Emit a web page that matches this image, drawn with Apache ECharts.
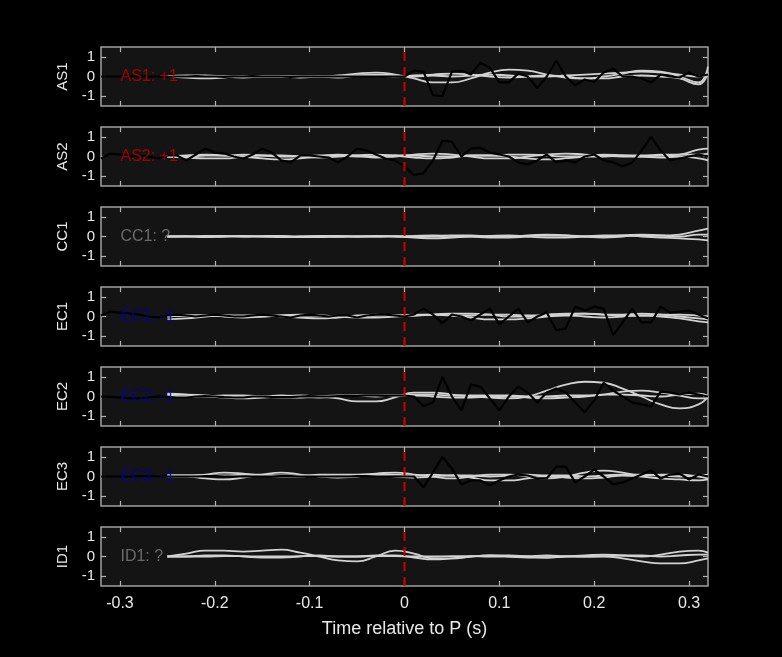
<!DOCTYPE html>
<html><head><meta charset="utf-8">
<script src="https://cdn.jsdelivr.net/npm/echarts@6/dist/echarts.min.js"></script>
<style>html,body{margin:0;padding:0;background:#000}#c{width:782px;height:657px}</style>
</head><body><div id="c"></div>
<script>
const stations = ["AS1","AS2","CC1","EC1","EC2","EC3","ID1"];
const labels = ["AS1: +1","AS2: +1","CC1: ?","EC1: -1","EC2: -1","EC3: -1","ID1: ?"];
const labelColors = ["#c00000","#c00000","#808080","#0000a0","#0000a0","#0000a0","#808080"];
const xTicks = [-0.3,-0.2,-0.1,0,0.1,0.2,0.3];
const yTicks = [-1,0,1];
// gray traces sampled at these times
const grayTimes = [-0.25,-0.23,-0.21,-0.19,-0.17,-0.15,-0.13,-0.11,-0.09,-0.07,-0.05,-0.03,-0.01,0.01,0.03,0.05,0.07,0.09,0.11,0.13,0.15,0.17,0.19,0.21,0.23,0.25,0.27,0.29,0.31,0.32];
// black trace sampled every 0.01 s from -0.32
const blackStart = -0.32, blackStep = 0.01;

const grayAS1 = [
 [0,0.05,0.05,0,-0.05,0,0,0,0,0.05,0.15,0.2,0.1,-0.1,-0.3,-0.3,-0.1,0.2,0.35,0.3,0.1,-0.05,-0.1,0.0,0.15,0.3,0.25,0.0,-0.3,0.5],
 [0,-0.05,-0.1,-0.05,0,0,0,-0.05,0,0,0.05,0.05,0,0.05,0.1,0.15,0.1,0,-0.05,0,0.05,0,-0.1,-0.1,0,0.05,0,-0.1,-0.4,0.2],
 [0,0,0,0,0,0,0,0,0,-0.05,0.05,0.1,0.05,0,0.05,0,0.05,0.1,0.05,0,0,0.05,0.1,0.15,0.2,0.25,0.2,0.1,0,0.1]];
const grayAS2 = [
 [0,0.05,0.1,0.05,0,-0.1,-0.15,-0.1,0,0.1,0.05,-0.05,0,0.1,0.15,0.1,0,-0.1,-0.1,0,0.1,0.15,0.1,0.05,0,0,0.05,0.1,0.35,0.4],
 [0,-0.05,-0.1,-0.1,0,0.05,0.05,0,-0.05,0,0.05,0.1,0.05,-0.05,-0.1,-0.05,0.05,0.05,0,-0.1,-0.15,-0.1,0,0.1,0.05,0,-0.05,0,-0.1,-0.2],
 [0,0,0.05,0.05,0.1,0.05,0,0,0.05,0.05,0,0,0.05,0.05,0,0,0.05,0.05,0.1,0.1,0.05,0,0,0,0.05,0.05,0.1,0.1,0.1,0.15]];
const grayCC1 = [
 [0,0,0.03,0.03,0,0,-0.03,0,0.03,0.03,0,0,0,0.03,0.05,0.03,0,-0.05,-0.05,0,0.05,0.05,0,-0.05,0,0.05,0.05,0.1,0.3,0.4],
 [0,0,-0.03,0,0.03,0,0,-0.03,-0.03,0,0,0.03,0,-0.05,-0.1,-0.05,0,0.03,0.05,0,-0.05,-0.05,0,0.05,0.05,0,-0.05,-0.1,-0.15,-0.2],
 [0,0.02,0,0,0,0.02,0.03,0,0,-0.02,0,0,0.02,0,0,0.05,0.05,0,0,0.05,0.1,0.05,0,0,0.05,0.1,0.05,0,0.1,0.1]];
const grayEC1 = [
 [-0.15,-0.1,0,0.05,0.05,0.05,0,-0.05,-0.1,-0.05,0.05,0.1,0.05,0.05,0.1,0.15,0.15,0.1,0,0,0.1,0.15,0.15,0.1,0.1,0.15,0.1,0,-0.1,-0.15],
 [0,0.05,0.05,0,-0.05,0,0.05,0.1,0.05,0,-0.05,-0.05,0,0.05,0.1,0.05,-0.05,-0.15,-0.15,-0.1,0,0.05,0,-0.05,0,0.05,0,-0.1,-0.25,-0.3],
 [0,0.05,0.05,0.05,0,0,0.05,0.05,0.05,0,0,0.05,0.05,0.1,0.1,0.05,0.05,0.1,0.1,0.05,0.05,0.1,0.15,0.1,0.05,0.05,0.1,0.1,0.05,0]];
const grayEC2 = [
 [0.15,0.1,0,-0.05,-0.1,-0.05,0,0.05,0,-0.1,-0.25,-0.25,-0.05,0.2,0.2,0.1,0,-0.05,-0.1,0,0.3,0.6,0.75,0.7,0.4,0,-0.4,-0.6,-0.4,0],
 [0.05,0,0,0.05,0.05,0,-0.05,-0.05,0,0.05,0.05,0,0.05,0.05,0,-0.05,-0.05,0,0,-0.05,-0.1,-0.05,0,0.1,0.25,0.3,0.2,0.05,-0.1,-0.1],
 [0.1,0.1,0.05,0,0,0,0.05,0,-0.05,0,0.05,0.05,0.05,0.1,0.1,0.05,0.05,0.05,0.05,0,0,0.05,0.05,0.1,0.1,0.05,0,0.1,0.15,0.05]];
const grayEC3 = [
 [0.05,0.05,0.1,0.2,0.15,0.05,0,0,0.1,0.1,0.1,0.15,0.2,0.1,0,-0.1,0,0.1,0.1,0,-0.1,0,0.2,0.3,0.2,0.05,0.1,0.1,0,-0.1],
 [0,0,-0.1,-0.15,-0.05,0.1,0.2,0.1,0,-0.05,0,0.05,0,-0.05,0,0.05,-0.05,-0.2,-0.2,-0.1,0,-0.05,-0.1,-0.05,0.05,0,-0.1,-0.15,-0.2,-0.15],
 [0.05,0.05,0.05,0.05,0.1,0.1,0.05,0.05,0.05,0,0.05,0.1,0.1,0.05,0.1,0.05,0.05,0,0.05,0.1,0.05,0.05,0,0.05,0.1,0.1,0.05,0,0.05,0.1]];
const grayID1 = [
 [0,0.15,0.3,0.3,0.25,0.3,0.35,0.2,0,-0.2,-0.25,0,0.3,0.15,-0.1,-0.1,0,0.05,0,-0.05,-0.05,0,0.05,0.1,0.05,0,0.1,0.25,0.3,0.2],
 [0,0,0.05,0.05,0,-0.05,-0.05,0,0.05,0,0,0.05,0.05,-0.05,-0.15,-0.1,0,0.05,0.05,0,-0.05,0,0,0,-0.1,-0.25,-0.35,-0.35,-0.2,-0.1],
 [0,0,0,0.02,0.02,0,0,0.02,0.02,0,0,0.02,0.02,0,0,0.02,0.02,0,0,0.02,0.05,0.02,0,0.02,0.05,0.05,0,0.05,0.1,0.1]];

const blackAS1 = [0,0,0,0.02,0.02,0,0,-0.02,0,0,0.02,0,0,-0.02,0,0,0.02,0,0,0,-0.02,0,0,0,0,0,0,0,0,0,0,0,
 0,0.3,0.25,-0.95,-1.0,0.25,0.3,0.1,0.7,0.45,-0.3,-0.3,0.15,0,-0.6,0,0.8,0,-0.45,-0.15,-0.28,0.2,0.4,0,0,-0.1,-0.3,0.1,0,-0.05,0.2,0,0.1];
const blackAS2 = [-0.1,0.15,0.1,0.05,0.05,0,-0.1,0.05,0.05,-0.2,0.1,0.4,0.2,0.15,0,-0.1,0.1,0.4,0.2,-0.2,-0.3,0.05,0.05,0,-0.05,-0.3,0,0.4,0.3,0.1,-0.1,-0.2,
 -0.5,-0.95,-0.85,-0.2,0.8,0.75,0,0.4,0.45,0.2,0.1,0,-0.3,-0.4,-0.2,0.1,-0.3,-0.2,-0.3,0,0.1,-0.2,-0.3,-0.5,-0.3,0.3,1.0,0.3,-0.2,-0.1,0,0.1,0];
const blackCC1 = [];
const blackEC1 = [0.05,0.25,0.2,0.15,0.1,0,-0.05,0.05,0.1,0.05,0,0.05,0.1,0.05,0,0,0.05,0.1,0.05,0,-0.05,0.05,0.1,0.05,0,0.05,0.05,-0.05,0.05,0.1,0.1,0.05,
 0,0.1,0.4,0.1,-0.35,0.1,0,-0.2,0.1,0.4,-0.4,0,0.4,-0.3,0,0.2,-0.7,-0.6,0.5,0.3,0.5,0.4,-0.95,-0.3,0.4,-0.3,-0.3,0.5,0.2,0.25,0.3,0.1,-0.1];
const blackEC2 = [0,-0.02,-0.05,-0.1,-0.1,-0.05,0,-0.02,-0.05,-0.05,0,0.02,0,-0.03,-0.05,-0.05,0,0,-0.02,-0.03,-0.03,0,0.02,0,0,0.02,0.03,0.03,0.05,0.05,0.03,0.05,
 0.05,0,-0.5,-0.3,1.0,0,-0.7,0.6,0.5,-0.1,-0.7,0,0.5,0.2,-0.3,0.2,0.4,0.2,-0.3,-0.8,-0.2,0.7,0.3,0,-0.3,-0.4,-0.5,0.25,0.2,0.1,0.2,0.1,0];
const blackEC3 = [0,0,0,0,0.02,0.02,0,0,0,0,0,0.02,0.02,0,0,0,0,0,0,0.02,0.02,0,0,0,0,0,0,0.02,0.02,0,0,0,
 0,0,-0.55,0.2,1.0,0.4,-0.4,-0.2,-0.2,-0.45,-0.2,0,0.1,0.05,-0.1,-0.1,0.5,0.5,-0.3,0,0.35,0,-0.4,-0.3,-0.1,0.1,0.3,-0.1,0.1,0.15,-0.15,0.1,0];
const blackID1 = [];

const grays = [grayAS1,grayAS2,grayCC1,grayEC1,grayEC2,grayEC3,grayID1];
const blacks = [blackAS1,blackAS2,blackCC1,blackEC1,blackEC2,blackEC3,blackID1];
const labelPos = [-0.3, 0];
const pickLine = [[0,-1.5],[0,1.5]];

const grids=[], xAxes=[], yAxes=[], series=[];
const axisCol = '#b0b0b0', txt = '#e8e8e8';
const noLine = {show:false, onZero:false};
stations.forEach((st,i)=>{
  const top = 47 + i*80;
  grids.push({left:101, width:607, top:top, height:59, show:true, backgroundColor:'#141414', borderColor:'#a0a0a0', borderWidth:1.5});
  const last = i===stations.length-1;
  const xb = {gridIndex:i, type:'value', position:'bottom', min:-0.32, max:0.32, interval:0.1,
    axisLine:noLine, splitLine:{show:false},
    axisTick:{show:true, inside:true, length:5, lineStyle:{color:axisCol, width:1.2}, customValues:xTicks},
    axisLabel:{show:last, color:txt, fontSize:16, fontFamily:'Liberation Sans', margin:10, customValues:xTicks,
      formatter:v=>v===0?'0':String(Math.round(v*10)/10)}};
  if(last){ xb.name='Time relative to P (s)'; xb.nameLocation='middle'; xb.nameGap=34; xb.nameTextStyle={color:txt,fontSize:18,fontFamily:'Liberation Sans'}; }
  xAxes.push(xb);
  xAxes.push({gridIndex:i, type:'value', position:'top', min:-0.32, max:0.32, axisLine:noLine, splitLine:{show:false},
    axisLabel:{show:false}, axisTick:{show:true, inside:true, length:5, lineStyle:{color:axisCol, width:1.2}, customValues:xTicks}});
  yAxes.push({gridIndex:i, type:'value', position:'left', min:-1.5, max:1.5, axisLine:noLine, splitLine:{show:false},
    axisTick:{show:true, inside:true, length:5, lineStyle:{color:axisCol, width:1.2}, customValues:yTicks},
    axisLabel:{color:txt, fontSize:15, fontFamily:'Liberation Sans', margin:6, customValues:yTicks},
    name:st, nameLocation:'middle', nameGap:27, nameRotate:90, nameTextStyle:{color:txt, fontSize:15, fontFamily:'Liberation Sans'}});
  yAxes.push({gridIndex:i, type:'value', position:'right', min:-1.5, max:1.5, axisLine:noLine, splitLine:{show:false},
    axisLabel:{show:false}, axisTick:{show:true, inside:true, length:5, lineStyle:{color:axisCol, width:1.2}, customValues:yTicks}});
  const xi = i*2, yi = i*2;
  grays[i].forEach(g=>{
    series.push({type:'line', xAxisIndex:xi, yAxisIndex:yi, smooth:0.5, symbol:'none',
      lineStyle:{color:'#d2d2d2', width:1.8}, data:g.map((v,k)=>[grayTimes[k],v]), z:3});
  });
  if(blacks[i].length){
    series.push({type:'line', xAxisIndex:xi, yAxisIndex:yi, symbol:'none',
      lineStyle:{color:'#000', width:2.2}, data:blacks[i].map((v,k)=>[blackStart+k*blackStep,v]), z:4});
  }
  series.push({type:'line', xAxisIndex:xi, yAxisIndex:yi, symbol:'none',
    lineStyle:{color:'#cc0000', width:2, type:[9,6]}, data:pickLine, z:5});
  series.push({type:'scatter', xAxisIndex:xi, yAxisIndex:yi, symbolSize:1, itemStyle:{color:'rgba(0,0,0,0)'}, data:[labelPos], z:6,
    label:{show:true, position:'right', distance:0, formatter:labels[i], color:labelColors[i], fontSize:16, fontFamily:'Liberation Sans'}});
});
const chart = echarts.init(document.getElementById('c'));
chart.setOption({backgroundColor:'#000', animation:false, grid:grids, xAxis:xAxes, yAxis:yAxes, series:series});
</script></body></html>
